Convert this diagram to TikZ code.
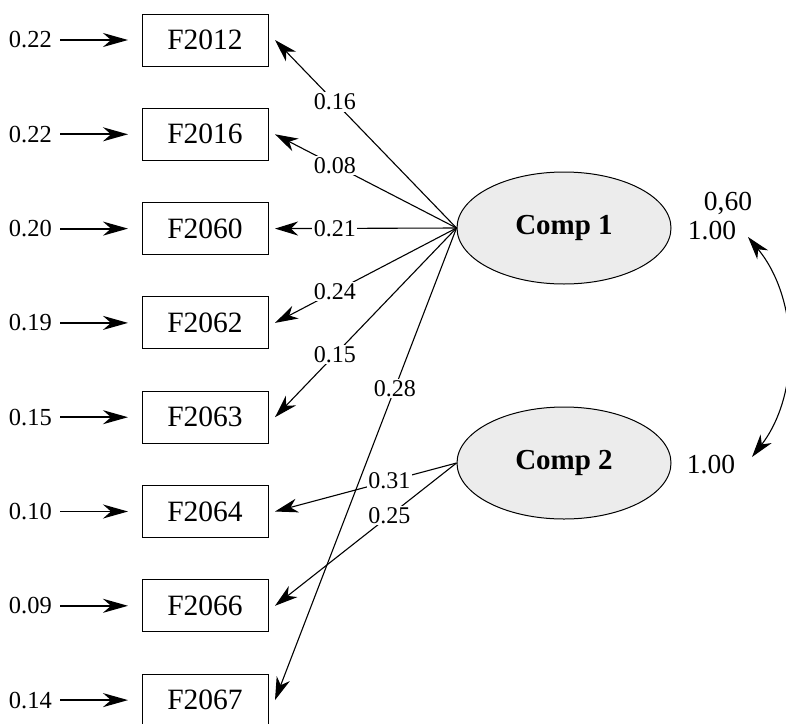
\documentclass[tikz,border=0pt]{standalone}
\usepackage{fontspec}
\setmainfont{Liberation Serif}
\usetikzlibrary{arrows.meta,shapes.geometric}
\tikzset{
  obsbox/.style={draw, line width=1pt, minimum width=126pt, minimum height=52pt, inner sep=0pt, font=\fontsize{29.5}{30}\selectfont},
  latent/.style={draw, ellipse, line width=1pt, fill=gray!15, minimum width=214pt, minimum height=112pt, inner sep=0pt, font=\fontsize{29}{30}\selectfont\bfseries},
  errlab/.style={anchor=east, inner sep=0pt, font=\fontsize{24.5}{25}\selectfont},
  pathlab/.style={fill=white, inner sep=1.5pt, font=\fontsize{24}{25}\selectfont},
  varlab/.style={inner sep=0pt, font=\fontsize{27.5}{28}\selectfont},
  errarrow/.style={line width=1.8pt, -{Stealth[length=25pt, width=14pt, inset=8pt]}},
  loadarrow/.style={line width=1.1pt, -{Stealth[length=23pt, width=14pt, inset=7pt]}},
  covarrow/.style={line width=1.1pt, {Stealth[length=23pt, width=14pt, inset=7pt]}-{Stealth[length=23pt, width=14pt, inset=7pt]}}
}
\begin{document}
\begin{tikzpicture}[x=1pt, y=-1pt]
\useasboundingbox (0,0) rectangle (786,723);

% observed boxes with their error terms
\foreach \n/\y/\e in {F2012/40/0.22, F2016/134.3/0.22, F2060/228.6/0.20, F2062/322.9/0.19, F2063/417.2/0.15, F2064/511.5/0.10, F2066/605.8/0.09, F2067/700.1/0.14} {
  \node[obsbox] (\n) at (205,\y) {\n};
  \node[errlab] (e\n) at (52,\y) {\e};
  \coordinate (s\n) at (60,\y);
  \coordinate (t\n) at (128,\y);
  \coordinate (a\n) at (275,\y);
  \draw[errarrow] (s\n) -- (t\n);
}

% latent ellipses
\node[latent] (c1) at (564,228) {Comp 1};
\node[latent] (c2) at (564,463) {Comp 2};

% loadings from Comp 1
\draw[loadarrow] (c1.west) -- node[pathlab, pos=0.67] {0.16} (aF2012);
\draw[loadarrow] (c1.west) -- node[pathlab, pos=0.67] {0.08} (aF2016);
\draw[loadarrow] (c1.west) -- node[pathlab, pos=0.67] {0.21} (aF2060);
\draw[loadarrow] (c1.west) -- node[pathlab, pos=0.67] {0.24} (aF2062);
\draw[loadarrow] (c1.west) -- node[pathlab, pos=0.67] {0.15} (aF2063);
\draw[loadarrow] (c1.west) -- node[pathlab, pos=0.34] {0.28} (aF2067);

% loadings from Comp 2
\draw[loadarrow] (c2.west) -- node[pathlab, pos=0.37] {0.31} (aF2064);
\draw[loadarrow] (c2.west) -- node[pathlab, pos=0.37] {0.25} (aF2066);

% variances and covariance
\node[varlab] (cov) at (728,203) {0,60};
\node[varlab] (v1) at (712,231) {1.00};
\node[varlab] (v2) at (711,465) {1.00};
\coordinate (ct) at (748,237);
\coordinate (cb) at (752,457);
\draw[covarrow] (ct) .. controls (800,300) and (800,395) .. (cb);
\end{tikzpicture}
\end{document}
